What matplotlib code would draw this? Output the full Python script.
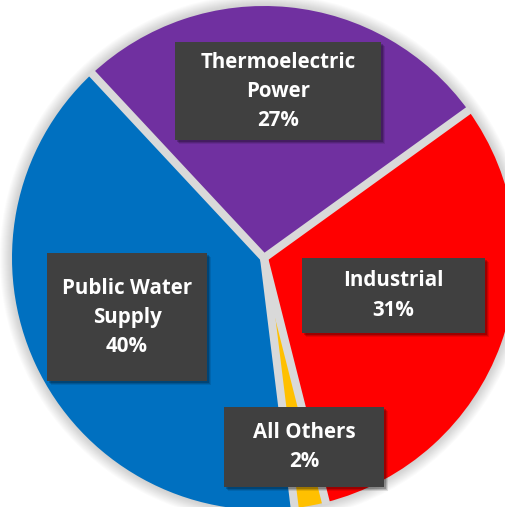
import matplotlib
matplotlib.use("Agg")
import numpy as np
import matplotlib.pyplot as plt
from matplotlib.patches import Rectangle, Circle

labels = ["Thermoelectric\nPower", "Industrial", "All Others", "Public Water\nSupply"]
values = [27, 31, 2, 40]
colors = ["#7030A0", "#FF0000", "#FFC000", "#0070C0"]

# label box layout (pixel coords: left, top, right, bottom)
boxes = [(175, 42, 381, 140), (302, 258, 485, 333), (224, 407, 384, 487), (47, 253, 207, 381)]

W, H = 506, 507
fig = plt.figure(figsize=(W / 100, H / 100), dpi=100)
ax = fig.add_axes([0, 0, 1, 1])

cx, cy, r = 264, H - 258, 252

# soft glow around pie
for k in range(12, 0, -1):
    ax.add_patch(Circle((cx, cy), r + k, color="#707070", alpha=0.028, lw=0, zorder=0))

wedges, _ = ax.pie(values, colors=colors, startangle=133, counterclock=False,
                   center=(cx, cy), radius=r, frame=True,
                   wedgeprops=dict(edgecolor="none", linewidth=0))

# grey separators along slice boundaries
for wdg in wedges:
    th = np.deg2rad(wdg.theta1)
    ax.plot([cx, cx + (r + 2) * np.cos(th)], [cy, cy + (r + 2) * np.sin(th)],
            color="#D9D9D9", lw=5.8, solid_capstyle="butt", zorder=3)

ax.set_xlim(0, W)
ax.set_ylim(0, H)
ax.set_aspect("equal")
ax.axis("off")

for lab, val, (l, t, rr, b) in zip(labels, values, boxes):
    y0 = H - b
    h = b - t
    w = rr - l
    for k, a in [(4, 0.1), (3, 0.14), (2, 0.2)]:
        ax.add_patch(Rectangle((l + k, y0 - k), w, h, color="black", alpha=a, lw=0, zorder=4))
    ax.add_patch(Rectangle((l, y0), w, h, facecolor="#404040", edgecolor="none", zorder=5))
    ax.text(l + w / 2, y0 + h / 2, f"{lab}\n{val}%", ha="center", va="center",
            color="white", fontsize=14.8, fontweight="bold", family="Open Sans",
            linespacing=1.5, zorder=6)

fig.savefig("out.png", dpi=100)
